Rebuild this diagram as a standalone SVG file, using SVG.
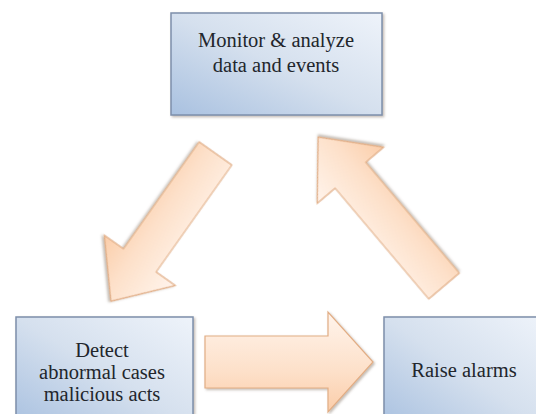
<svg xmlns="http://www.w3.org/2000/svg" width="536" height="414" viewBox="0 0 536 414">
<defs>
<linearGradient id="boxg" x1="1" y1="0" x2="0" y2="1">
<stop offset="0" stop-color="#eef3fa"/>
<stop offset="0.5" stop-color="#d5e0ee"/>
<stop offset="1" stop-color="#a9c1e0"/>
</linearGradient>
<linearGradient id="arrg" x1="0" y1="0" x2="0" y2="1">
<stop offset="0" stop-color="#fff4ec"/>
<stop offset="0.6" stop-color="#fde0c9"/>
<stop offset="1" stop-color="#fbcda9"/>
</linearGradient>
<filter id="sh" x="-10%" y="-10%" width="130%" height="130%">
<feDropShadow dx="1.5" dy="1.5" stdDeviation="1.2" flood-color="#7a6a5a" flood-opacity="0.45"/>
</filter>
</defs>
<style>
.box{fill:url(#boxg);stroke:#7d8fab;stroke-width:1.5;filter:url(#sh)}
.arr{fill:url(#arrg);stroke:#e2ad84;stroke-width:1.2;filter:url(#sh)}
.t{font-family:'Liberation Serif','Times New Roman',serif;font-size:20.5px;fill:#22262c;text-anchor:middle}
</style>
<rect width="536" height="414" fill="#ffffff"/>
<g id="connectors">
<path class="arr" transform="translate(215.5,153.5) rotate(125.3)" d="M0,-20 L131,-20 L131,-43.5 L181,0 L131,43.5 L131,20 L0,20 Z"/>
<path class="arr" transform="translate(205,362)" d="M0,-26 L123,-26 L123,-50 L168,0 L123,50 L123,26 L0,26 Z"/>
<path class="arr" transform="translate(444,286) rotate(-130.2)" d="M0,-20 L145,-20 L145,-43.5 L195,0 L145,43.5 L145,20 L0,20 Z"/>
</g>
<g id="monitor">
<rect class="box" x="171" y="13" width="211" height="102"/>
<text class="t" font-family="Liberation Serif, serif" x="276" y="47">Monitor &amp; analyze</text>
<text class="t" font-family="Liberation Serif, serif" x="276" y="72">data and events</text>
</g>
<g id="detect">
<rect class="box" x="16" y="317" width="177" height="110"/>
<text class="t" font-family="Liberation Serif, serif" x="102" y="357">Detect</text>
<text class="t" font-family="Liberation Serif, serif" x="102" y="379">abnormal cases</text>
<text class="t" font-family="Liberation Serif, serif" x="102" y="401">malicious acts</text>
</g>
<g id="raise">
<rect class="box" x="384" y="317" width="160" height="110"/>
<text class="t" font-family="Liberation Serif, serif" x="464" y="377">Raise alarms</text>
</g>
</svg>
